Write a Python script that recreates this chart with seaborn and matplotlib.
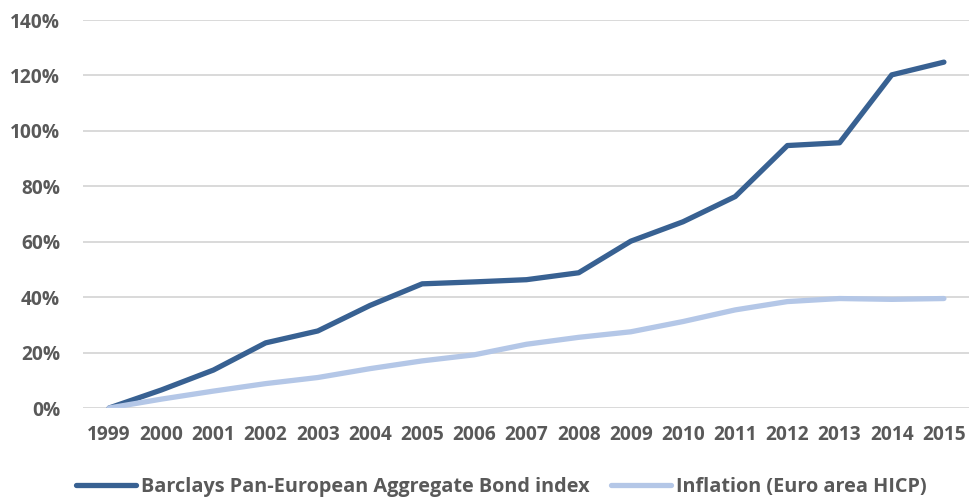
import matplotlib
matplotlib.use("Agg")
import matplotlib.pyplot as plt
import seaborn as sns
import pandas as pd
from matplotlib.ticker import FuncFormatter

years = [str(y) for y in range(1999, 2016)]
bond_index = [0.0, 6.5, 13.7, 23.5, 27.8, 37.0, 44.8, 45.5, 46.3, 48.8, 60.2,
              67.2, 76.3, 94.7, 95.7, 120.2, 124.8]
inflation = [0.0, 3.2, 6.1, 8.8, 11.0, 14.2, 17.0, 19.2, 23.0, 25.5, 27.5,
             31.2, 35.4, 38.4, 39.5, 39.2, 39.5]
series_names = ["Barclays Pan-European Aggregate Bond index",
                "Inflation (Euro area HICP)"]
colors = ["#386192", "#B4C7E7"]

df = pd.DataFrame({
    "pos": list(range(len(years))) * 2,
    "value": bond_index + inflation,
    "series": [series_names[0]] * len(years) + [series_names[1]] * len(years),
})

sns.set_theme(style="white")
plt.rcParams["font.family"] = ["Open Sans", "DejaVu Sans"]
text_color = "#595959"
fs = 13.8

fig = plt.figure(figsize=(9.7, 5.0), dpi=100)
ax = fig.add_axes([0.0856, 0.184, 0.9144, 0.776])

sns.lineplot(data=df, x="pos", y="value", hue="series", palette=colors,
             linewidth=3.8, ax=ax, legend=False, sort=False)
for line in ax.get_lines():
    line.set_solid_capstyle("round")
    line.set_solid_joinstyle("round")

ax.set_ylim(0, 140)
ax.set_xlim(-0.5, len(years) - 0.5)
ax.set_yticks(range(0, 141, 20))
ax.yaxis.set_major_formatter(FuncFormatter(lambda v, _: f"{v:.0f}%"))
ax.set_xticks(range(len(years)))
ax.set_xticklabels(years)
ax.grid(axis="y", color="#D9D9D9", linewidth=1.4)
ax.set_axisbelow(True)
for s in ax.spines.values():
    s.set_visible(False)
ax.tick_params(axis="both", length=0, labelsize=fs, labelcolor=text_color)
ax.tick_params(axis="y", pad=16.5)
ax.tick_params(axis="x", pad=12)
for lab in ax.get_xticklabels() + ax.get_yticklabels():
    lab.set_fontweight("bold")
ax.set_xlabel("")
ax.set_ylabel("")

handles = [plt.Line2D([], [], color=c, linewidth=3.8, solid_capstyle="round")
           for c in colors]
leg = fig.legend(handles, series_names, loc="center", bbox_to_anchor=(0.517, 0.026),
                 ncol=2, frameon=False, handlelength=3.0, handletextpad=0.25,
                 columnspacing=1.1, prop={"weight": "bold", "size": 14.3})
for t in leg.get_texts():
    t.set_color(text_color)

fig.savefig("out.png", dpi=100)
